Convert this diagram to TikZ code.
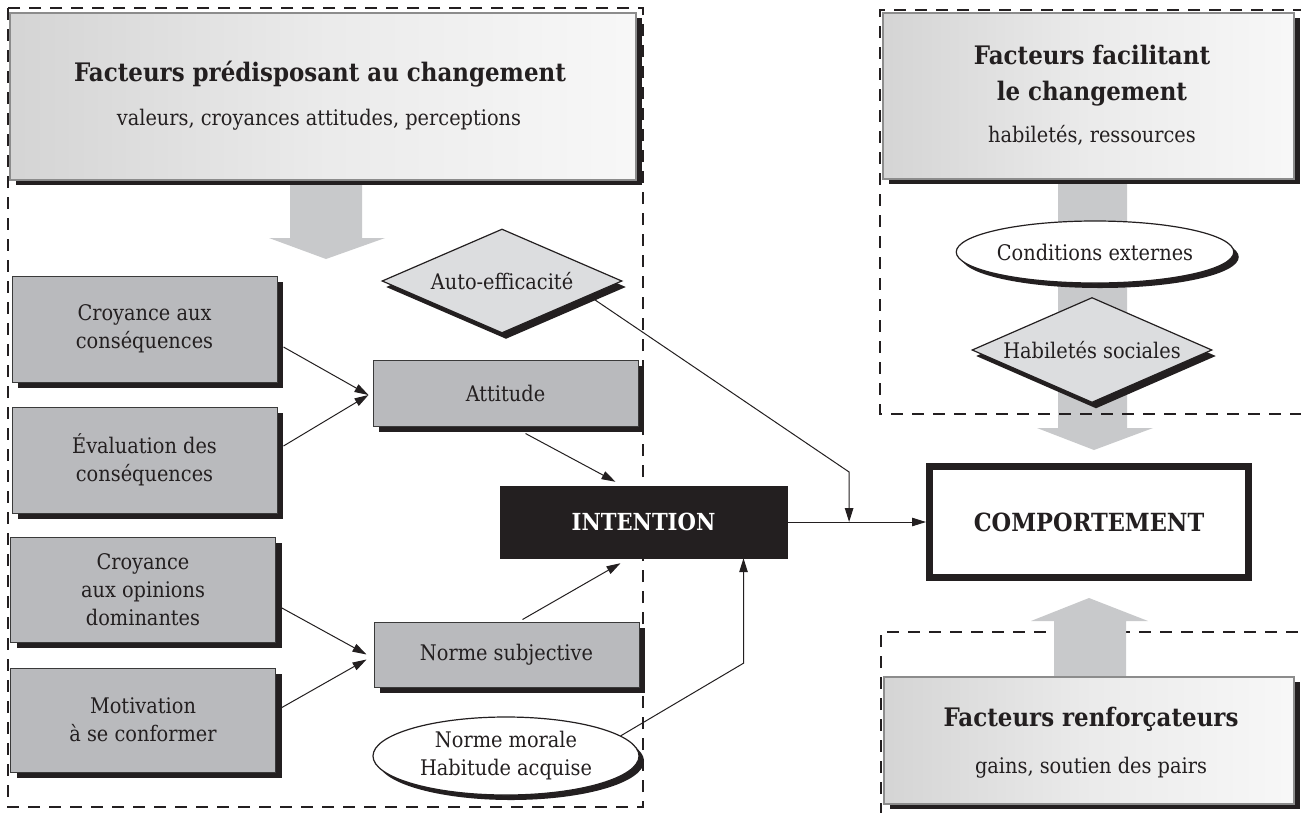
\documentclass[tikz,border=0pt]{standalone}
\usepackage{fontspec}
\setmainfont{DejaVu Serif Condensed}
\usetikzlibrary{shapes.geometric,shadows,calc,arrows.meta}
\definecolor{boxgray}{HTML}{B9BABD}
\definecolor{diagray}{HTML}{DCDDDF}
\definecolor{arrgray}{HTML}{C8C9CB}
\definecolor{edgec}{HTML}{3A3A3A}
\definecolor{ink}{HTML}{231F20}
\pgfdeclarehorizontalshading{facshade}{100bp}{color(0bp)=(black!55); color(3bp)=(black!34); color(9bp)=(black!22); color(30bp)=(black!15); color(50bp)=(black!8); color(80bp)=(black!2); color(100bp)=(white)}
\begin{document}
\begin{tikzpicture}[x=1pt,y=-1pt,
  txt/.style={font=\fontsize{21.5}{28}\selectfont, align=center, text=ink},
  titletxt/.style={font=\fontsize{25.5}{36}\selectfont\bfseries, align=center, text=ink},
  dashline/.style={line width=2.6pt, dash pattern=on 12pt off 9pt, ink},
  shad/.style={drop shadow={shadow xshift=6pt,shadow yshift=-6pt,fill=ink,opacity=1}},
  graybox/.style={rectangle, draw=edgec, line width=1pt, fill=boxgray, minimum width=265pt, inner sep=0pt, txt, shad},
  gradbox/.style={rectangle, draw=black!45, line width=1.2pt, shading=facshade, inner sep=0pt, drop shadow={shadow xshift=6pt,shadow yshift=-5pt,fill=ink,opacity=1}},
  diabox/.style={diamond, aspect=2.3, draw=ink, line width=1.2pt, fill=diagray, minimum width=240pt, minimum height=104pt, inner sep=0pt, txt, drop shadow={shadow xshift=4pt,shadow yshift=-6pt,fill=ink,opacity=1}},
  ellbox/.style={ellipse, draw=ink, line width=1.2pt, fill=white, minimum width=266pt, inner sep=0pt, txt, drop shadow={shadow xshift=5pt,shadow yshift=-5pt,fill=ink,opacity=1}},
  intbox/.style={rectangle, draw=ink, fill=ink, minimum width=287pt, minimum height=72pt, inner sep=0pt, font=\fontsize{23.5}{28}\selectfont\bfseries, text=white},
  compbox/.style={rectangle, draw=ink, line width=7pt, fill=white, minimum width=319pt, minimum height=111pt, inner sep=0pt, font=\fontsize{25}{30}\selectfont\bfseries, text=ink},
  conn/.style={draw=ink, line width=1pt, -{Triangle[length=14pt,width=8.5pt]}}
]
\fill[white] (0,0) rectangle (1301,812);
\useasboundingbox (0,0) rectangle (1301,812);

% dashed containers and block arrows
\draw[dashline] (8,8) rectangle (643,807);
\draw[dashline] (881,815) -- (881,632) -- (1305,632);
\fill[arrgray] (290,180) -- (362,180) -- (362,238) -- (385,238) -- (326,259) -- (269,238) -- (290,238) -- cycle;
\fill[arrgray] (1058,180) -- (1127,180) -- (1127,428) -- (1153,428) -- (1094,450) -- (1037,428) -- (1058,428) -- cycle;
\fill[arrgray] (1054,680) -- (1126,680) -- (1126,621) -- (1148,621) -- (1089,598) -- (1031,621) -- (1054,621) -- cycle;

% factor boxes
\node[gradbox, minimum width=626pt, minimum height=167pt] (pred) at (323,96.5) {};
\node[titletxt] (predT) at (320,74) {Facteurs prédisposant au changement};
\node[txt] (predS) at (319,120) {valeurs, croyances attitudes, perceptions};

\node[gradbox, minimum width=411pt, minimum height=166pt] (fac) at (1088.5,96) {};
\node[titletxt] (facT) at (1092,76) {Facteurs facilitant\\le changement};
\node[txt] (facS) at (1092,135) {habiletés, ressources};

\node[gradbox, minimum width=410pt, minimum height=127pt] (ren) at (1089,740.5) {};
\node[titletxt] (renT) at (1091,719) {Facteurs renforçateurs};
\node[txt] (renS) at (1091,768) {gains, soutien des pairs};

% left column
\node[graybox, minimum height=106pt] (cc) at (144.5,329) {Croyance aux\\conséquences};
\node[graybox, minimum height=106pt] (ev) at (144.5,460) {Évaluation des\\conséquences};
\node[graybox, minimum height=105pt] (co) at (143,589.5) {Croyance\\aux opinions\\dominantes};
\node[graybox, minimum height=104pt] (mo) at (143,720) {Motivation\\à se conformer};

% middle
\node[graybox, minimum height=66pt] (att) at (505.5,393) {Attitude};
\node[graybox, minimum height=65pt] (ns) at (506.5,654.5) {Norme subjective};
\node[diabox] (ae) at (502,281) {Auto-efficacité};
\node[ellbox, minimum height=78pt] (nm) at (506,756) {Norme morale\\Habitude acquise};
\node[intbox] (int) at (643.5,522) {INTENTION};

% right column
\node[ellbox, minimum height=62pt] (ce) at (1095,252) {Conditions externes};
\node[diabox, minimum width=240pt, minimum height=105pt] (hs) at (1092,350) {Habiletés sociales};
\draw[dashline] (1305,10) -- (880,10) -- (880,414) -- (1305,414);
\node[compbox] (comp) at (1089,522) {COMPORTEMENT};

% connectors
\draw[conn] ($(cc.east)+(6,18)$) -- ($(att.west)+(-4,2)$);
\draw[conn] ($(ev.east)+(6,-14)$) -- ($(att.west)+(-4,2)$);
\draw[conn] ($(att.south)+(20,7)$) -- ($(int.north)+(-28,-4)$);
\draw[conn] ($(co.east)+(5,18)$) -- ($(ns.west)+(-7,0)$);
\draw[conn] ($(mo.east)+(5,-12)$) -- ($(ns.west)+(-7,5)$);
\draw[conn] ($(ns.north)+(16,-2)$) -- ($(int.south)+(-23,5)$);
\coordinate (nmbend) at ($(int.south)+(100,105)$);
\draw[conn] (nm.10) -- (nmbend) -- ($(int.south)+(100,0)$);
\draw[conn] (int.east) -- (comp.west);
\coordinate (jn) at ($(int.east)!0.446!(comp.west)$);
\coordinate (aebend) at ($(jn)+(0,-50)$);
\draw[conn] ($(ae.east)!0.28!(ae.south)$) -- (aebend) -- (jn);
\end{tikzpicture}
\end{document}
